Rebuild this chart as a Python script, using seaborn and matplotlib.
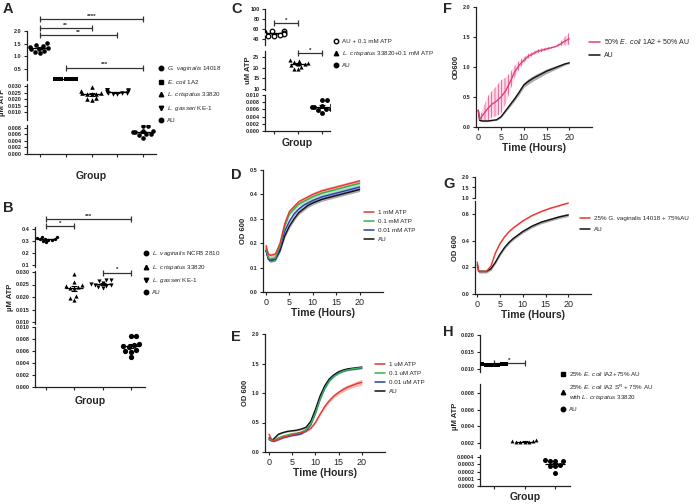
"""
ATP levels and growth curves figure (panels A-H)
Broken-axis scatter plots of ATP plus OD600 growth curves
"""
import numpy as np
import pandas as pd
import matplotlib
matplotlib.use("Agg")
import matplotlib.pyplot as plt
from matplotlib.lines import Line2D
import seaborn as sns

W, H = 696, 504

# ---------------- ATP scatter data ----------------
gv_14018 = [1.52, 1.43, 1.41, 1.38, 1.33, 1.30, 1.27, 1.22, 1.16, 1.12]
ecoli_1a2 = [0.105, 0.100, 0.100, 0.098, 0.102, 0.100, 0.099, 0.101, 0.100, 0.097]
lc_33820 = [0.0291, 0.0262, 0.0249, 0.0246, 0.0242, 0.0238, 0.0236, 0.0205, 0.0198, 0.0190]
lg_ke1 = [0.0268, 0.0267, 0.0266, 0.0258, 0.0252, 0.0250, 0.0247, 0.0244, 0.0241, 0.0236]
au_atp = [0.0085, 0.0085, 0.0072, 0.0070, 0.0068, 0.0067, 0.0062, 0.0060, 0.0059, 0.0050]
lv_2810 = [0.335, 0.330, 0.325, 0.320, 0.318, 0.315, 0.312, 0.310, 0.300, 0.290]
au_plus_atp = [57, 56, 55, 53, 52, 51, 50, 48, 47, 46]
lc_plus_atp = [23.5, 23.3, 22.5, 22.0, 21.8, 21.5, 21.0, 20.5, 19.5, 19.2]
h_ecoli = [0.0116, 0.0115, 0.0114, 0.0113, 0.0113, 0.0112, 0.0112]
h_ecoli_lc = [0.0024, 0.0022, 0.0022, 0.0021, 0.0021, 0.0021, 0.0021]
h_au = [0.00036, 0.00035, 0.00035, 0.00034, 0.00029, 0.00028, 0.00027, 0.00018]

A_LABELS = [r"$\it{G.\ vaginalis}$ 14018", r"$\it{E.\ coli}$ 1A2",
            r"$\it{L.\ crispatus}$ 33820", r"$\it{L.\ gasseri}$ KE-1", "AU"]
B_LABELS = [r"$\it{L.\ vaginalis}$ NCFB 2810", r"$\it{L.\ crispatus}$ 33820",
            r"$\it{L.\ gasseri}$ KE-1", "AU"]
C_LABELS = ["AU + 0.1 mM ATP", r"$\it{L.\ crispatus}$ 33820+0.1 mM ATP", "AU"]
H_LABELS = [r"25% $\it{E.\ coli}$ IA2+75% AU",
            r"25% $\it{E.\ coli}$ IA2 S$^{\mathrm{R}}$ + 75% AU" + "\n" + r"with $\it{L.\ crispatus}$ 33820",
            "AU"]

# ---------------- growth curve data (OD600) ----------------
t_d = [0, 0.5, 1, 2, 3, 4, 5, 6, 7, 8, 9, 10, 12, 14, 16, 18, 20]
d_1mm = [0.19, 0.155, 0.15, 0.155, 0.20, 0.28, 0.33, 0.35, 0.37, 0.38, 0.39, 0.40, 0.415, 0.425, 0.435, 0.445, 0.455]
d_01mm = [0.18, 0.14, 0.135, 0.14, 0.19, 0.27, 0.32, 0.34, 0.36, 0.37, 0.38, 0.39, 0.405, 0.415, 0.425, 0.435, 0.445]
d_001mm = [0.17, 0.135, 0.13, 0.135, 0.18, 0.25, 0.29, 0.32, 0.34, 0.355, 0.365, 0.375, 0.39, 0.40, 0.41, 0.42, 0.43]
d_au = [0.17, 0.135, 0.13, 0.135, 0.17, 0.23, 0.27, 0.30, 0.325, 0.34, 0.355, 0.365, 0.38, 0.39, 0.40, 0.41, 0.42]
d_err = [0.008, 0.008, 0.008, 0.008]
D_LABELS = ["1 mM ATP", "0.1 mM ATP", "0.01 mM ATP", "AU"]

t_e = [0, 0.5, 1, 2, 3, 4, 5, 6, 7, 8, 9, 10, 11, 12, 13, 14, 15, 16, 17, 18, 19, 20]
e_1um = [0.30, 0.22, 0.19, 0.21, 0.25, 0.27, 0.29, 0.31, 0.33, 0.35, 0.40, 0.50, 0.64, 0.77, 0.87, 0.95, 1.01, 1.06, 1.10, 1.13, 1.16, 1.18]
e_01um = [0.22, 0.20, 0.19, 0.24, 0.27, 0.29, 0.31, 0.32, 0.34, 0.38, 0.47, 0.65, 0.88, 1.07, 1.20, 1.28, 1.33, 1.37, 1.39, 1.41, 1.42, 1.43]
e_001um = [0.21, 0.19, 0.18, 0.21, 0.24, 0.26, 0.28, 0.29, 0.31, 0.36, 0.46, 0.66, 0.90, 1.08, 1.21, 1.29, 1.34, 1.37, 1.39, 1.40, 1.41, 1.42]
e_au = [0.24, 0.20, 0.22, 0.30, 0.33, 0.35, 0.36, 0.37, 0.39, 0.42, 0.52, 0.72, 0.95, 1.12, 1.24, 1.31, 1.36, 1.39, 1.41, 1.42, 1.43, 1.44]
e_1um_err = [0.03, 0.01, 0.01, 0.01, 0.01, 0.01, 0.01, 0.01, 0.01, 0.01, 0.015, 0.02, 0.025, 0.03, 0.03, 0.035, 0.035, 0.04, 0.04, 0.04, 0.045, 0.05]
e_err = [e_1um_err, 0.012, 0.012, 0.012]
E_LABELS = ["1 uM ATP", "0.1 uM ATP", "0.01 uM ATP", "AU"]

t_f = [0, 0.3, 1, 2, 3, 4, 5, 6, 7, 8, 9, 10, 11, 12, 13, 14, 15, 16, 17, 18, 19, 20]
f_mix = [0.27, 0.13, 0.20, 0.30, 0.38, 0.43, 0.50, 0.60, 0.75, 0.92, 1.03, 1.11, 1.18, 1.22, 1.26, 1.28, 1.30, 1.32, 1.34, 1.38, 1.43, 1.47]
f_mix_err = [0.02, 0.03, 0.10, 0.20, 0.22, 0.25, 0.28, 0.22, 0.15, 0.10, 0.07, 0.05, 0.04, 0.03, 0.03, 0.03, 0.025, 0.015, 0.005, 0.03, 0.07, 0.10]
f_au = [0.28, 0.11, 0.10, 0.10, 0.11, 0.12, 0.17, 0.27, 0.37, 0.47, 0.58, 0.70, 0.76, 0.81, 0.85, 0.89, 0.93, 0.96, 0.99, 1.02, 1.05, 1.07]
f_au_err = [0.01, 0.01, 0.01, 0.01, 0.01, 0.01, 0.015, 0.02, 0.03, 0.035, 0.04, 0.04, 0.045, 0.045, 0.045, 0.04, 0.04, 0.035, 0.03, 0.025, 0.02, 0.015]
F_LABELS = [r"50% $\it{E.\ coli}$ 1A2 + 50% AU", "AU"]

t_g = [0, 0.3, 1, 2, 3, 4, 5, 6, 7, 8, 10, 12, 14, 16, 18, 20]
g_mix = [0.24, 0.17, 0.17, 0.17, 0.21, 0.31, 0.38, 0.43, 0.47, 0.50, 0.55, 0.59, 0.62, 0.645, 0.665, 0.685]
g_au = [0.22, 0.17, 0.17, 0.17, 0.19, 0.24, 0.30, 0.35, 0.39, 0.42, 0.47, 0.51, 0.54, 0.56, 0.58, 0.595]
g_err = [0.004, 0.012]
G_LABELS = ["25% G. vaginalis 14018 + 75%AU", "AU"]

RED, GREEN, BLUE, BLACK, PINK = "#e8352e", "#35b24a", "#2540b0", "#111111", "#de3f7f"


def px_axes(fig, x0, y0, x1, y1):
    """Add axes from a pixel box measured from the top-left corner"""
    return fig.add_axes([x0 / W, 1 - y1 / H, (x1 - x0) / W, (y1 - y0) / H])


def prism_style(ax, show_x):
    sns.despine(ax=ax, bottom=not show_x)
    for s in ["left", "bottom"]:
        ax.spines[s].set_linewidth(0.9)
        ax.spines[s].set_color("#222222")
    ax.tick_params(axis="y", length=2.5, width=0.8, pad=1.5)
    ax.tick_params(axis="x", length=2.5, width=0.8)
    if not show_x:
        ax.set_xticks([])
    ax.set_xlabel("")
    ax.set_ylabel("")


def set_yticks(ax, ticks, fmt, size=4):
    ax.set_yticks(ticks)
    ax.set_yticklabels([fmt % t for t in ticks], fontweight="bold", fontsize=size)


def letter(fig, x, y, txt):
    fig.text(x / W, 1 - y / H, txt, fontsize=10.5, fontweight="bold", va="top", ha="left")


def scatter_panel(fig, values, markers, sizes, seg_of, seg_y, seg_ylim, seg_ticks, seg_fmt,
                  xspan, xlim, brackets, ylabel, labels, legend_xy, group_y, faces=None):
    groups = [str(i) for i in range(len(values))]
    axes = [px_axes(fig, xspan[0], y0, xspan[1], y1) for y0, y1 in seg_y]
    for i, g in enumerate(groups):
        ax = axes[seg_of[i]]
        df = pd.DataFrame({"group": g, "value": values[i]})
        face = faces[i] if faces else "black"
        sns.swarmplot(data=df, x="group", y="value", order=groups, color=face,
                      edgecolor="black", linewidth=0.9 if face != "black" else 0,
                      marker=markers[i], size=sizes[i], warn_thresh=1, ax=ax)
        m = np.mean(values[i])
        sem = np.std(values[i], ddof=1) / np.sqrt(len(values[i]))
        ax.hlines(m, i - 0.32, i + 0.32, color="black", lw=0.9, zorder=4)
        ax.errorbar(i, m, yerr=sem, color="black", lw=0.8, capsize=2.2, capthick=0.8, zorder=4)

    last = len(axes) - 1
    for k, ax in enumerate(axes):
        ax.set_xlim(*xlim)
        ax.set_ylim(*seg_ylim[k])
        prism_style(ax, k == last)
        set_yticks(ax, seg_ticks[k], seg_fmt[k])
        if k == last:
            ax.set_xticks(range(len(groups)))
            ax.set_xticklabels([])
    axes[1].set_ylabel(ylabel, fontsize=5.5, fontweight="bold", labelpad=1)

    # significance brackets
    for g1, g2, k, y, txt in brackets:
        ax = axes[k]
        ax.plot([g1, g2], [y, y], color="#333333", lw=0.9, marker="|", markersize=4,
                mew=0.9, clip_on=False)
        ax.annotate(txt, xy=((g1 + g2) / 2, y), xytext=(0, 0.3), textcoords="offset points",
                    ha="center", va="bottom", fontsize=4.5, fontweight="bold",
                    annotation_clip=False)

    handles = []
    for i, mk in enumerate(markers):
        face = faces[i] if faces else "black"
        handles.append(Line2D([], [], marker=mk, ls="none", markerfacecolor=face,
                              markeredgecolor="black", markersize=3.2))
    fig.legend(handles, labels, loc="upper left",
               bbox_to_anchor=(legend_xy[0] / W, 1 - legend_xy[1] / H),
               fontsize=4.5, frameon=False, handlelength=1, handletextpad=0.5,
               labelspacing=0.75, borderaxespad=0, borderpad=0)
    fig.text((xspan[0] + xspan[1]) / 2 / W, 1 - group_y / H, "Group",
             ha="center", va="center", fontsize=7.5, fontweight="bold")
    return axes


def draw_curves(ax, t, series, colors, errs, hatch=None):
    for vals, c, e in zip(series, colors, errs):
        vals = np.asarray(vals)
        e = np.asarray(e)
        if hatch and c == PINK:
            ax.fill_between(t, vals - e, vals + e, facecolor=(1.0, 0.6, 0.75, 0.35),
                            edgecolor=c, hatch="|||||", linewidth=0)
        else:
            ax.fill_between(t, vals - e, vals + e, color=c, alpha=0.35, lw=0)
        sns.lineplot(x=t, y=vals, color=c, lw=1.0, ax=ax)


def curve_legend(fig, colors, labels, xy, size=4.5, spacing=0.55):
    handles = [Line2D([], [], color=c, lw=1.1) for c in colors]
    fig.legend(handles, labels, loc="upper left", bbox_to_anchor=(xy[0] / W, 1 - xy[1] / H),
               fontsize=size, frameon=False, handlelength=1.6, handletextpad=0.6,
               labelspacing=spacing, borderaxespad=0, borderpad=0)


def time_axis(ax, xlim):
    ax.set_xlim(*xlim)
    ax.set_xticks([0, 5, 10, 15, 20])
    ax.tick_params(axis="x", labelsize=6.5, pad=1.5)
    ax.set_xlabel("Time (Hours)", fontsize=7.5, fontweight="bold", labelpad=1)


def curve_panel(fig, box, t, series, colors, errs, labels, ylim, yticks, yfmt, ylabel,
                legend_xy, xlim, hatch=None, leg_size=4.5, leg_spacing=0.55):
    ax = px_axes(fig, *box)
    order = list(range(len(series)))[::-1]
    draw_curves(ax, t, [series[i] for i in order], [colors[i] for i in order],
                [errs[i] for i in order], hatch=hatch)
    ax.set_ylim(*ylim)
    prism_style(ax, True)
    set_yticks(ax, yticks, yfmt)
    time_axis(ax, xlim)
    ax.set_ylabel(ylabel, fontsize=5.5, fontweight="bold", labelpad=2)
    curve_legend(fig, colors, labels, legend_xy, size=leg_size, spacing=leg_spacing)
    return ax


def main():
    sns.set_style("ticks")
    plt.rcParams["font.family"] = ["Liberation Sans", "DejaVu Sans"]
    plt.rcParams["mathtext.fontset"] = "custom"
    plt.rcParams["mathtext.rm"] = "Liberation Sans"
    plt.rcParams["mathtext.it"] = "Liberation Sans:italic"
    plt.rcParams["mathtext.bf"] = "Liberation Sans:bold"
    plt.rcParams["hatch.linewidth"] = 0.5

    fig = plt.figure(figsize=(W / 100, H / 100), dpi=100)

    # ---- A ----
    scatter_panel(
        fig, [gv_14018, ecoli_1a2, lc_33820, lg_ke1, au_atp],
        ["o", "s", "^", "v", "o"], [3.3, 3.0, 3.3, 3.3, 3.3], [0, 0, 1, 1, 2],
        [(31, 80), (84, 120), (125, 154)],
        [(0.05, 2.0), (0.00385, 0.03154), (0, 0.00892)],
        [[0.5, 1.0, 1.5, 2.0], [0.010, 0.015, 0.020, 0.025, 0.030], [0, 0.002, 0.004, 0.006, 0.008]],
        ["%.1f", "%.3f", "%.3f"],
        (27, 156), (-0.5, 4.5),
        [(0, 4, 0, 2.48, "****"), (0, 2, 0, 2.12, "**"), (0, 3, 0, 1.84, "**"), (1, 4, 0, 0.54, "***")],
        "µM ATP", A_LABELS, (158, 64), 176)
    letter(fig, 3, 2, "A")

    # ---- B ----
    scatter_panel(
        fig, [lv_2810, lc_33820, lg_ke1, au_atp],
        ["o", "^", "v", "o"], [2.4, 3.0, 3.0, 3.8], [0, 1, 1, 2],
        [(227, 267), (271, 324), (327, 387)],
        [(0.083, 0.417), (0.0092, 0.0304), (0, 0.010)],
        [[0.1, 0.2, 0.3, 0.4], [0.010, 0.015, 0.020, 0.025, 0.030], [0, 0.002, 0.004, 0.006, 0.008, 0.010]],
        ["%.1f", "%.3f", "%.3f"],
        (35, 145), (-0.39, 3.5),
        [(0, 3, 0, 0.483, "***"), (0, 1, 0, 0.425, "*"), (2, 3, 1, 0.0298, "*")],
        "µM ATP", B_LABELS, (143, 249), 401)
    letter(fig, 3, 201, "B")

    # ---- C ----
    scatter_panel(
        fig, [au_plus_atp, lc_plus_atp, au_atp],
        ["o", "^", "o"], [3.3, 3.0, 3.5], [0, 1, 2],
        [(9, 45), (51, 90), (95, 131)],
        [(28, 100), (9.5, 27.8), (0, 0.010)],
        [[40, 60, 80, 100], [10, 15, 20, 25], [0, 0.002, 0.004, 0.006, 0.008, 0.010]],
        ["%d", "%d", "%.3f"],
        (265, 330), (-0.375, 2.33),
        [(0, 1, 0, 72, "*"), (1, 2, 1, 26.9, "*")],
        "uM ATP", C_LABELS, (333, 39), 143, faces=["white", "black", "black"])
    letter(fig, 231, 2, "C")

    # ---- H ----
    scatter_panel(
        fig, [h_ecoli, h_ecoli_lc, h_au],
        ["s", "^", "o"], [2.8, 2.8, 3.6], [0, 1, 2],
        [(335, 372), (384, 448), (455, 486)],
        [(0.0091, 0.020), (0.0014, 0.00908), (0, 0.000428)],
        [[0.010, 0.015, 0.020], [0.002, 0.004, 0.006, 0.008], [0, 0.0001, 0.0002, 0.0003, 0.0004]],
        ["%.3f", "%.3f", "%.4f"],
        (480, 570), (-0.46, 2.49),
        [(0, 1, 0, 0.01176, "*")],
        "µM ATP", H_LABELS, (560, 370), 497)
    letter(fig, 443, 325, "H")

    # ---- D ----
    curve_panel(fig, (263, 170, 383, 292), t_d, [d_1mm, d_01mm, d_001mm, d_au],
                [RED, GREEN, BLUE, BLACK], d_err, D_LABELS, (0, 0.5),
                [0, 0.1, 0.2, 0.3, 0.4, 0.5], "%.1f", "OD 600", (364, 210), (-0.64, 25))
    letter(fig, 231, 168, "D")

    # ---- E ----
    curve_panel(fig, (265, 334, 385, 452), t_e, [e_1um, e_01um, e_001um, e_au],
                [RED, GREEN, BLUE, BLACK], e_err, E_LABELS, (0, 2.0),
                [0, 0.5, 1.0, 1.5, 2.0], "%.1f", "OD 600", (375, 362), (-0.86, 25))
    letter(fig, 231, 330, "E")

    # ---- F ----
    curve_panel(fig, (476, 7, 592, 127), t_f, [f_mix, f_au], [PINK, BLACK],
                [f_mix_err, f_au_err], F_LABELS, (0, 2.0), [0, 0.5, 1.0, 1.5, 2.0], "%.1f",
                "OD600", (589, 37), (-0.5, 25), hatch=True, leg_size=5, leg_spacing=0.9)
    letter(fig, 443, 2, "F")

    # ---- G (broken y axis) ----
    g_top = px_axes(fig, 475, 177, 591, 198)
    g_low = px_axes(fig, 475, 201, 591, 294)
    draw_curves(g_low, t_g, [g_au, g_mix], [BLACK, RED], [g_err[1], g_err[0]])
    g_low.set_ylim(0, 0.7)
    prism_style(g_low, True)
    set_yticks(g_low, [0, 0.2, 0.4, 0.6], "%.1f")
    time_axis(g_low, (-0.5, 25))
    g_low.set_ylabel("OD 600", fontsize=5.5, fontweight="bold", labelpad=2)
    g_top.set_xlim(-0.5, 25)
    g_top.set_ylim(1.0, 2.0)
    prism_style(g_top, False)
    set_yticks(g_top, [1.0, 1.5, 2.0], "%.1f")
    curve_legend(fig, [RED, BLACK], G_LABELS, (580, 216), size=4.5, spacing=0.9)
    letter(fig, 443, 177, "G")

    fig.savefig("out.png", dpi=100)
    plt.close(fig)


if __name__ == "__main__":
    main()
